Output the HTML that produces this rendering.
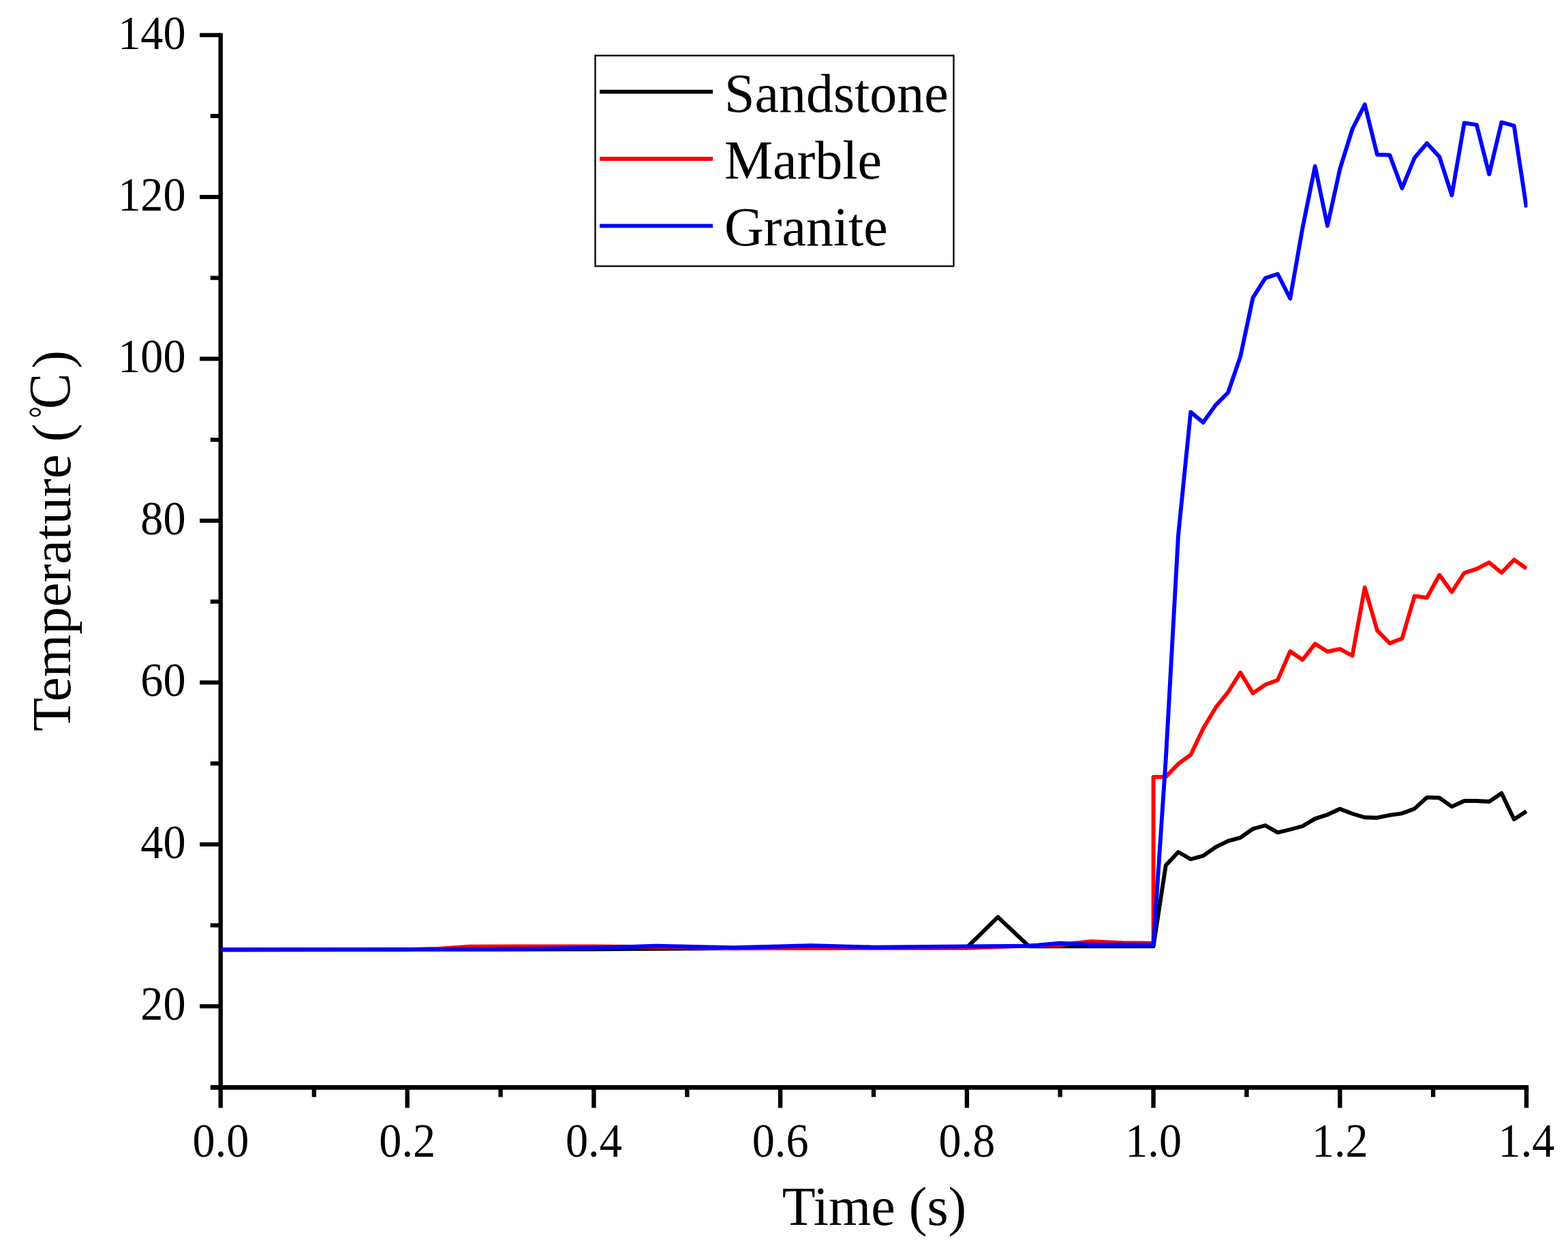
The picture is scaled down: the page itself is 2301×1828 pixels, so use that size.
<!DOCTYPE html>
<html lang="en"><head><meta charset="utf-8"><title>Temperature vs Time</title>
<style>
html,body{margin:0;padding:0;background:#fff;}
body{width:2301px;height:1828px;overflow:hidden;}
svg{display:block;}
text{font-family:"Liberation Serif",serif;fill:#000;}
.tk{font-size:69px;}
.lab{font-size:80px;}
.leg{font-size:80px;}
.ylab{font-size:80.7px;}
</style></head><body>
<svg width="2301" height="1828" viewBox="0 0 2301 1828">
<rect x="0" y="0" width="2301" height="1828" fill="#fff"/>
<defs><clipPath id="pc"><rect x="324" y="0" width="1917.5" height="1595"/></clipPath></defs>
<g stroke="#000" fill="none" stroke-linecap="butt">
<line x1="323.75" y1="48.45" x2="323.75" y2="1598.8" stroke-width="6.4"/>
<line x1="320.55" y1="1595.35" x2="2243.2" y2="1595.35" stroke-width="6.9"/>
<line x1="308.75" y1="1595.35" x2="323.75" y2="1595.35" stroke-width="6.9"/>
<line x1="293.15" y1="1476.3" x2="323.75" y2="1476.3" stroke-width="6.1"/>
<line x1="308.75" y1="1357.5" x2="323.75" y2="1357.5" stroke-width="6.1"/>
<line x1="293.15" y1="1238.8" x2="323.75" y2="1238.8" stroke-width="6.1"/>
<line x1="308.75" y1="1120.1" x2="323.75" y2="1120.1" stroke-width="6.1"/>
<line x1="293.15" y1="1001.3" x2="323.75" y2="1001.3" stroke-width="6.1"/>
<line x1="308.75" y1="882.6" x2="323.75" y2="882.6" stroke-width="6.1"/>
<line x1="293.15" y1="763.9" x2="323.75" y2="763.9" stroke-width="6.1"/>
<line x1="308.75" y1="645.2" x2="323.75" y2="645.2" stroke-width="6.1"/>
<line x1="293.15" y1="526.4" x2="323.75" y2="526.4" stroke-width="6.1"/>
<line x1="308.75" y1="407.7" x2="323.75" y2="407.7" stroke-width="6.1"/>
<line x1="293.15" y1="289.0" x2="323.75" y2="289.0" stroke-width="6.1"/>
<line x1="308.75" y1="170.2" x2="323.75" y2="170.2" stroke-width="6.1"/>
<line x1="293.15" y1="51.5" x2="323.75" y2="51.5" stroke-width="6.1"/>
<line x1="323.75" y1="1595.35" x2="323.75" y2="1625.35" stroke-width="6.4"/>
<line x1="460.9" y1="1595.35" x2="460.9" y2="1609.45" stroke-width="6.4"/>
<line x1="597.7" y1="1595.35" x2="597.7" y2="1625.35" stroke-width="6.4"/>
<line x1="734.6" y1="1595.35" x2="734.6" y2="1609.45" stroke-width="6.4"/>
<line x1="871.4" y1="1595.35" x2="871.4" y2="1625.35" stroke-width="6.4"/>
<line x1="1008.3" y1="1595.35" x2="1008.3" y2="1609.45" stroke-width="6.4"/>
<line x1="1145.1" y1="1595.35" x2="1145.1" y2="1625.35" stroke-width="6.4"/>
<line x1="1282.0" y1="1595.35" x2="1282.0" y2="1609.45" stroke-width="6.4"/>
<line x1="1418.9" y1="1595.35" x2="1418.9" y2="1625.35" stroke-width="6.4"/>
<line x1="1555.7" y1="1595.35" x2="1555.7" y2="1609.45" stroke-width="6.4"/>
<line x1="1692.6" y1="1595.35" x2="1692.6" y2="1625.35" stroke-width="6.4"/>
<line x1="1829.4" y1="1595.35" x2="1829.4" y2="1609.45" stroke-width="6.4"/>
<line x1="1966.3" y1="1595.35" x2="1966.3" y2="1625.35" stroke-width="6.4"/>
<line x1="2103.1" y1="1595.35" x2="2103.1" y2="1609.45" stroke-width="6.4"/>
<line x1="2240.0" y1="1595.35" x2="2240.0" y2="1625.35" stroke-width="6.4"/>
</g>
<g fill="none" stroke-width="5.9" stroke-linejoin="round" stroke-linecap="butt" clip-path="url(#pc)">
<polyline stroke="#000" points="324.0,1393.2 871.4,1392.6 1145.1,1390.8 1418.9,1390.2 1464.4,1345.3 1510.1,1388.4 1692.6,1388.4 1710.8,1269.6 1729.1,1250.0 1747.3,1260.5 1765.6,1255.7 1783.8,1242.8 1802.1,1233.9 1820.3,1228.9 1838.6,1216.0 1856.8,1211.0 1875.0,1221.4 1893.3,1217.0 1911.5,1212.0 1929.8,1201.1 1948.0,1195.2 1966.3,1186.7 1984.5,1193.7 2002.8,1199.3 2021.0,1199.7 2039.3,1195.9 2057.5,1193.3 2075.8,1186.4 2094.0,1169.9 2112.3,1170.5 2130.5,1183.4 2148.8,1175.0 2167.0,1175.0 2185.3,1176.0 2203.5,1163.7 2221.8,1201.9 2240.0,1190.3"/>
<polyline stroke="#f00" points="324.0,1393.2 597.7,1393.2 643.3,1392.0 689.0,1388.6 871.4,1388.4 1008.3,1389.6 1076.7,1391.4 1418.9,1390.8 1555.7,1386.0 1600.9,1381.3 1647.4,1383.1 1692.6,1383.7 1692.6,1140.0 1710.8,1139.6 1729.1,1120.7 1747.3,1107.4 1765.6,1069.1 1783.8,1038.4 1802.1,1015.5 1820.3,986.7 1838.6,1017.0 1856.8,1004.6 1875.0,997.7 1893.3,955.5 1911.5,968.0 1929.8,944.6 1948.0,956.0 1966.3,952.2 1984.5,962.0 2002.8,861.8 2021.0,924.9 2039.3,943.8 2057.5,936.8 2075.8,874.5 2094.0,876.9 2112.3,843.5 2130.5,868.5 2148.8,840.5 2167.0,834.6 2185.3,825.2 2203.5,840.3 2221.8,821.2 2240.0,834.0"/>
<polyline stroke="#00f" points="324.0,1393.2 693.5,1392.9 871.4,1390.8 963.1,1387.8 1076.7,1390.2 1190.3,1387.2 1282.0,1389.6 1418.9,1388.4 1510.6,1387.8 1555.7,1383.7 1600.9,1386.0 1692.6,1386.0 1710.8,1113.8 1729.1,785.0 1747.3,604.5 1765.6,619.8 1783.8,594.4 1802.1,576.0 1820.3,523.0 1838.6,436.9 1856.8,408.0 1875.0,402.0 1893.3,438.0 1911.5,334.3 1929.8,243.9 1948.0,331.3 1966.3,248.0 1984.5,189.5 2002.8,153.3 2021.0,226.9 2039.3,227.4 2057.5,276.2 2075.8,231.5 2094.0,210.2 2112.3,230.0 2130.5,286.5 2148.8,180.4 2167.0,183.2 2185.3,255.6 2203.5,179.4 2221.8,184.5 2240.0,304.4"/>
</g>
<text class="tk" transform="translate(272.5,1496.3) scale(0.96,1)" text-anchor="end">20</text>
<text class="tk" transform="translate(272.5,1258.8) scale(0.96,1)" text-anchor="end">40</text>
<text class="tk" transform="translate(272.5,1021.3) scale(0.96,1)" text-anchor="end">60</text>
<text class="tk" transform="translate(272.5,783.9) scale(0.96,1)" text-anchor="end">80</text>
<text class="tk" transform="translate(272.5,546.4) scale(0.96,1)" text-anchor="end">100</text>
<text class="tk" transform="translate(272.5,309.0) scale(0.96,1)" text-anchor="end">120</text>
<text class="tk" transform="translate(272.5,71.5) scale(0.96,1)" text-anchor="end">140</text>
<text class="tk" transform="translate(324.0,1697) scale(0.96,1)" text-anchor="middle">0.0</text>
<text class="tk" transform="translate(597.7,1697) scale(0.96,1)" text-anchor="middle">0.2</text>
<text class="tk" transform="translate(871.4,1697) scale(0.96,1)" text-anchor="middle">0.4</text>
<text class="tk" transform="translate(1145.1,1697) scale(0.96,1)" text-anchor="middle">0.6</text>
<text class="tk" transform="translate(1418.9,1697) scale(0.96,1)" text-anchor="middle">0.8</text>
<text class="tk" transform="translate(1692.6,1697) scale(0.96,1)" text-anchor="middle">1.0</text>
<text class="tk" transform="translate(1966.3,1697) scale(0.96,1)" text-anchor="middle">1.2</text>
<text class="tk" transform="translate(2240.0,1697) scale(0.96,1)" text-anchor="middle">1.4</text>
<text class="lab" x="1283" y="1797" text-anchor="middle">Time (s)</text>
<text class="ylab" transform="translate(103,1073) rotate(-90)" x="0" y="0">Temperature <tspan x="424.8">(</tspan><tspan x="459.5" dy="-23.3" style="font-size:54px" textLength="17.3" lengthAdjust="spacingAndGlyphs">°</tspan><tspan x="472.85" dy="22.3" style="font-size:86.7px" textLength="52.5" lengthAdjust="spacingAndGlyphs">C</tspan><tspan x="532.3" dy="1">)</tspan></text>
<rect x="873.5" y="81.5" width="526" height="309" fill="#fff" stroke="#000" stroke-width="2.3"/>
<line x1="880" y1="134.6" x2="1046" y2="134.6" stroke="#000" stroke-width="5.8"/>
<text class="leg" transform="translate(1063,163.5) scale(1,1.01)">Sandstone</text>
<line x1="880" y1="233.0" x2="1046" y2="233.0" stroke="#f00" stroke-width="5.8"/>
<text class="leg" transform="translate(1063,261.9) scale(1,1.01)">Marble</text>
<line x1="880" y1="331.4" x2="1046" y2="331.4" stroke="#00f" stroke-width="5.8"/>
<text class="leg" transform="translate(1063,360.3) scale(1,1.01)">Granite</text>
</svg>
</body></html>
